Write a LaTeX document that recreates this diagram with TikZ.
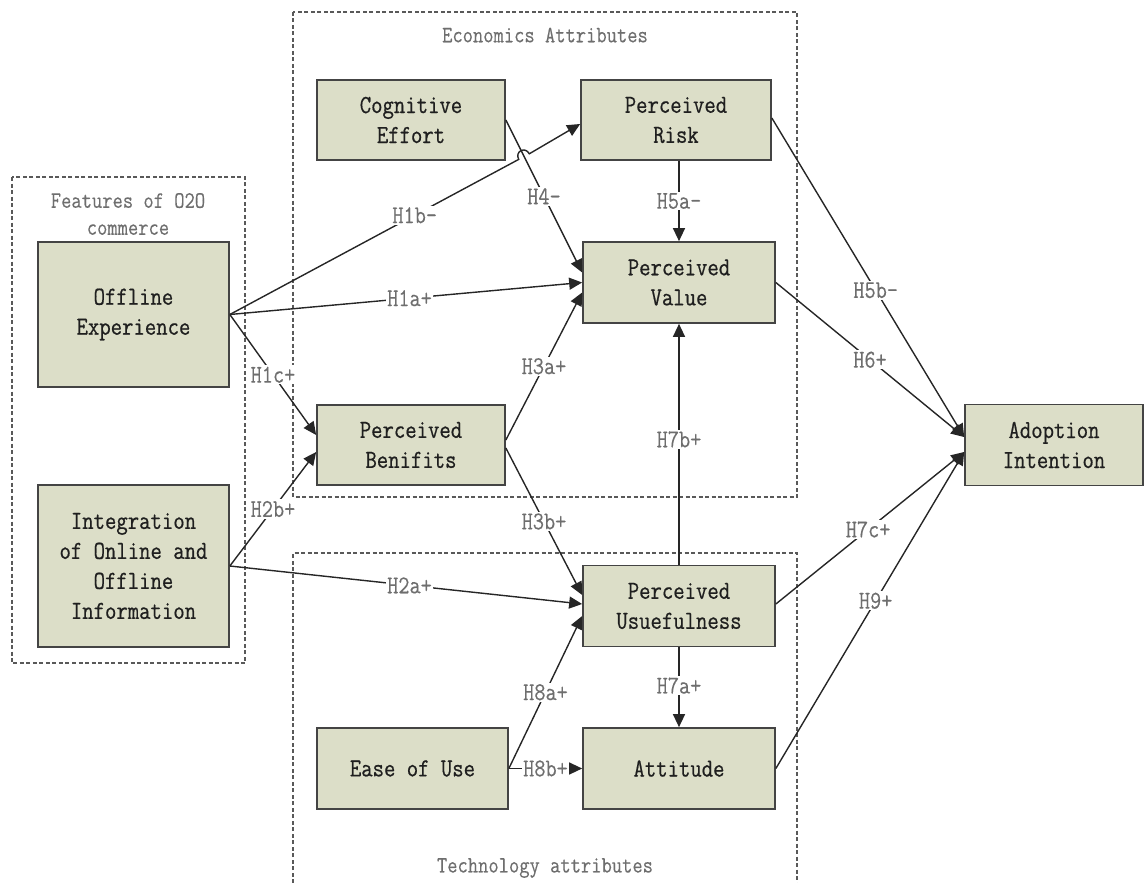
\documentclass[tikz,border=0pt]{standalone}
\usepackage{fontspec}
\usetikzlibrary{arrows.meta,calc}
\newfontfamily\boxfont{Latin Modern Mono}[FakeStretch=0.85,FakeBold=0.6]
\newfontfamily\labfont{Latin Modern Mono}[FakeStretch=0.85,FakeBold=0.3]
\definecolor{boxfill}{HTML}{DCDEC8}
\definecolor{boxline}{HTML}{444444}
\definecolor{labgray}{HTML}{6E6E6E}
\begin{document}
\begin{tikzpicture}[x=1pt,y=-1pt,
  cbox/.style={draw=boxline,line width=1.7pt,fill=boxfill,inner sep=0pt,align=center,
    font=\fontsize{26}{30}\selectfont\boxfont,text=black!88},
  lab/.style={fill=white,inner sep=1.5pt,text=labgray,font=\fontsize{25.5}{26}\selectfont\labfont},
  conn/.style={draw=black!85,line width=1.4pt},
  arr/.style={conn,-{Triangle[length=13pt,width=12pt]}},
  grp/.style={draw=black!65,line width=1.1pt,dash pattern=on 4pt off 2.5pt},
  gtitle/.style={text=labgray,font=\fontsize{23.5}{27}\selectfont\labfont,align=center}]

\useasboundingbox (0,0) rectangle (1146,883);

% group frames
\draw[grp] (12,177) rectangle (245,663);
\draw[grp] (293,12) rectangle (797,497);
\draw[grp] (293,883) -- (293,553) -- (797,553) -- (797,883);
\node[gtitle] (t1) at (128,214) {Features of O2O\\commerce};
\node[gtitle] (t2) at (545,35) {Economics Attributes};
\node[gtitle] (t3) at (545,868) {Technology attributes};

% nodes
\node[cbox,minimum width=191pt,minimum height=145pt] (oe) at (133.5,314.5) {Offline\\Experience};
\node[cbox,minimum width=191pt,minimum height=162pt] (ioi) at (133.5,566) {Integration\\of Online and\\Offline\\Information};
\node[cbox,minimum width=188pt,minimum height=80pt] (ce) at (411,120) {Cognitive\\Effort};
\node[cbox,minimum width=190pt,minimum height=80pt] (pr) at (676,120) {Perceived\\Risk};
\node[cbox,minimum width=192pt,minimum height=81pt] (pv) at (679,282.5) {Perceived\\Value};
\node[cbox,minimum width=188pt,minimum height=80pt] (pb) at (411,445) {Perceived\\Benifits};
\node[cbox,minimum width=192pt,minimum height=81pt] (pu) at (679,606) {Perceived\\Usuefulness};
\node[cbox,minimum width=192pt,minimum height=81pt] (att) at (679,768.5) {Attitude};
\node[cbox,minimum width=191pt,minimum height=81pt] (eou) at (412.5,768.5) {Ease of Use};
\node[cbox,minimum width=178pt,minimum height=81pt] (adop) at (1054,445) {Adoption\\Intention};

% jump-over points for H1b-
\coordinate (j1) at (518.7,159.4);
\coordinate (c1) at (514.5,151.5);
\coordinate (c2) at (525.1,145.9);
\coordinate (j2) at (529.3,153.8);

% connectors
\draw[arr] (oe.east) -- node[lab,pos=0.64]{H1b-} (j1) .. controls (c1) and (c2) .. (j2) -- ($(pr.west)+(0,4)$);
\draw[arr] (oe.east) -- node[lab,pos=0.51]{H1a+} (pv.west);
\draw[arr] (oe.east) -- node[lab,pos=0.5]{H1c+} ($(pb.west)+(0,-10)$);
\draw[arr] (ioi.east) -- node[lab,pos=0.5]{H2b+} ($(pb.west)+(0,7)$);
\draw[arr] (ioi.east) -- node[lab,pos=0.51]{H2a+} ($(pu.west)+(0,-2)$);
\draw[arr] (ce.east) -- node[lab,pos=0.5]{H4-} ($(pv.west)+(0,-10)$);
\draw[arr] (pr.south -| pv.north) -- node[lab,pos=0.5]{H5a-} (pv.north);
\draw[arr] ($(pb.east)+(0,-5)$) -- node[lab,pos=0.5]{H3a+} ($(pv.west)+(0,10)$);
\draw[arr] ($(pb.east)+(0,3)$) -- node[lab,pos=0.5]{H3b+} ($(pu.west)+(0,-11)$);
\draw[arr] (pu.north) -- node[lab,pos=0.52]{H7b+} (pv.south);
\draw[arr] (pu.south) -- node[lab,pos=0.48]{H7a+} (att.north);
\draw[arr] (eou.east) -- node[lab,pos=0.5]{H8a+} ($(pu.west)+(0,10)$);
\draw[arr] (eou.east) -- node[lab,pos=0.5]{H8b+} (att.west);
\draw[arr] ($(pr.east)+(0,-2)$) -- node[lab,pos=0.54]{H5b-} ($(adop.west)+(0,-8)$);
\draw[arr] (pv.east) -- node[lab,pos=0.5]{H6+} ($(adop.west)+(0,-8)$);
\draw[arr] ($(pu.east)+(0,-2)$) -- node[lab,pos=0.49]{H7c+} ($(adop.west)+(0,7)$);
\draw[arr] (att.east) -- node[lab,pos=0.53]{H9+} ($(adop.west)+(0,7)$);
\end{tikzpicture}
\end{document}
